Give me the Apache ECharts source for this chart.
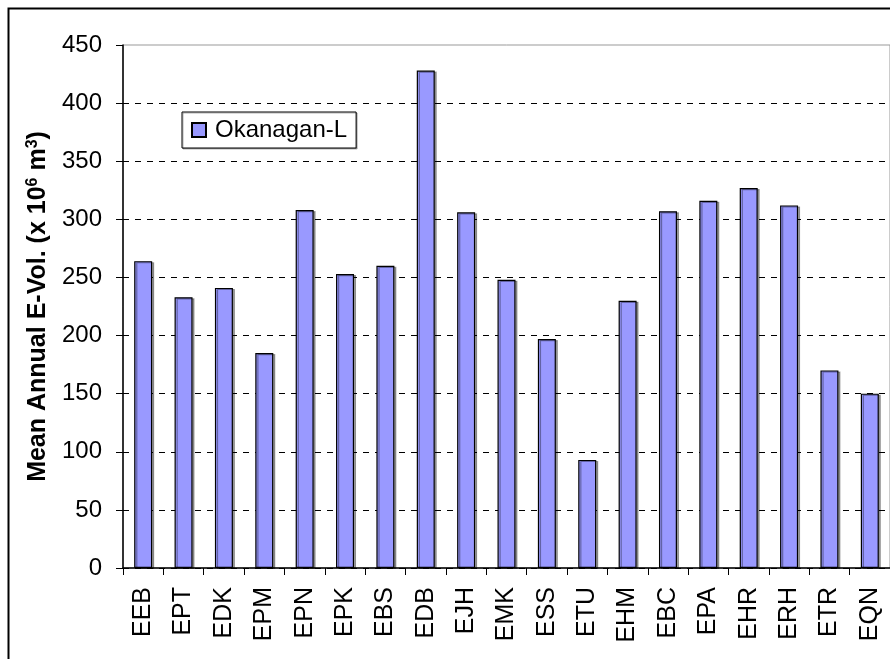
<!DOCTYPE html>
<html>
<head>
<meta charset="utf-8">
<style>
  html, body { margin: 0; padding: 0; background: #fff; }
  #chart { width: 890px; height: 659px; }
</style>
<script src="https://cdn.jsdelivr.net/npm/echarts@6/dist/echarts.min.js"></script>
</head>
<body>
<div id="chart"></div>
<script>
const categories = ['EEB','EPT','EDK','EPM','EPN','EPK','EBS','EDB','EJH','EMK','ESS','ETU','EHM','EBC','EPA','EHR','ERH','ETR','EQN'];
const seriesName = 'Okanagan-L';
const values = [264, 233, 241, 185, 308, 253, 260, 428, 306, 248, 197, 93, 230, 307, 316, 327, 312, 170, 150];
const yTicks = { min: 0, max: 450, interval: 50 };

const chart = echarts.init(document.getElementById('chart'), null, { renderer: 'canvas' });
const font = 'Arial, "Liberation Sans", sans-serif';
chart.setOption({
  animation: false,
  backgroundColor: '#fff',
  textStyle: { fontFamily: font },
  graphic: [{
    type: 'rect', silent: true, z: 100,
    shape: { x: 8.5, y: 8.5, width: 900, height: 700 },
    style: { fill: 'none', stroke: '#000', lineWidth: 2 }
  }],
  grid: { left: 123, right: -7, top: 45, bottom: 91, show: true, borderColor: '#999', borderWidth: 1, backgroundColor: 'transparent' },
  legend: {
    data: [seriesName],
    left: 182, top: 112,
    orient: 'vertical',
    backgroundColor: '#fff',
    borderColor: '#000', borderWidth: 1,
    padding: [6, 9, 6, 9],
    icon: 'rect', itemWidth: 14, itemHeight: 14, itemGap: 6,
    textStyle: { fontSize: 24, color: '#000', fontFamily: font, padding: [0, 0, 0, 4] },
    shadowColor: 'rgba(0,0,0,0.3)', shadowOffsetX: 1, shadowOffsetY: 1
  },
  xAxis: {
    type: 'category',
    data: categories,
    axisLine: { lineStyle: { color: '#000', width: 1.5 } },
    axisTick: { show: true, alignWithLabel: false, length: 7, lineStyle: { color: '#000' } },
    axisLabel: { rotate: 90, fontSize: 25, color: '#000', margin: 19, fontFamily: font, interval: 0 },
    splitLine: { show: false }
  },
  yAxis: {
    type: 'value',
    min: yTicks.min, max: yTicks.max, interval: yTicks.interval,
    name: 'Mean Annual E-Vol. (x 10{s|6} m{s|3})',
    nameLocation: 'middle',
    nameGap: 70,
    nameRotate: 90,
    nameTextStyle: {
      fontSize: 25, fontWeight: 'bold', color: '#000', fontFamily: font,
      rich: { s: { fontSize: 16, fontWeight: 'bold', padding: [0, 0, 12, 0], fontFamily: font } }
    },
    axisLine: { show: true, lineStyle: { color: '#000', width: 1.5 } },
    axisTick: { show: true, length: 7, lineStyle: { color: '#000' } },
    axisLabel: { fontSize: 24, color: '#000', margin: 21, fontFamily: font },
    splitLine: { show: true, showMaxLine: false, lineStyle: { color: '#000', type: [6, 6], width: 1 } }
  },
  series: [{
    name: seriesName,
    type: 'bar',
    data: values,
    barWidth: 18,
    itemStyle: { color: '#9999FF', borderColor: '#000', borderWidth: 1.2,
      shadowColor: 'rgba(0,0,0,0.35)', shadowOffsetX: 2, shadowOffsetY: 1, shadowBlur: 0 }
  }]
});
</script>
</body>
</html>
